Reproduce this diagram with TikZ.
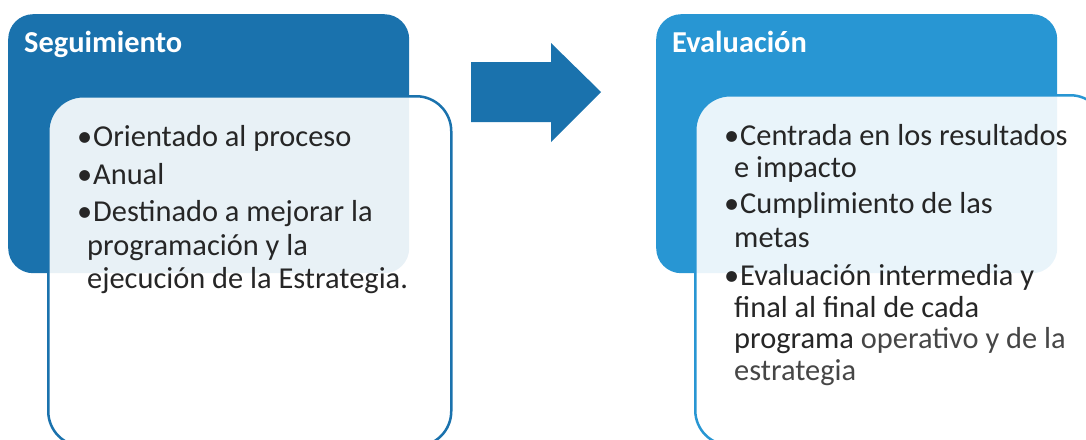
\documentclass[tikz,border=0pt]{standalone}
\usepackage{fontspec}
\setmainfont{Carlito}
\definecolor{blueL}{RGB}{26,114,173}
\definecolor{blueR}{RGB}{40,150,211}
\definecolor{textc}{RGB}{38,38,38}
\definecolor{textg}{RGB}{70,70,70}
\newcommand\bul{\makebox[13pt][l]{\hspace{-3pt}\textbullet}}
\begin{document}
\begin{tikzpicture}[x=1pt,y=-1pt,
  headbox/.style={anchor=north west, rounded corners=25pt, inner sep=0, minimum width=401pt, minimum height=259pt},
  listbox/.style={anchor=north west, rounded corners=35pt, inner sep=0, line width=2.5pt, fill=white, fill opacity=0.9, text opacity=1, minimum width=403pt, minimum height=350pt},
  title/.style={anchor=base west, inner sep=0, text=white, font=\fontsize{30.4}{36}\bfseries\selectfont},
  txt/.style={anchor=base west, inner sep=0, text=textc, font=\fontsize{30.4}{36}\selectfont}]
\useasboundingbox (0,0) rectangle (1086,439);
\clip (0,0) rectangle (1086,439);
% left panel
\node[headbox, fill=blueL] (segbox) at (8,14) {};
\node[listbox, draw=blueL] (seglist) at (47,95) {};
\node[title] (segtitle) at (24,52) {Seguimiento};
\node[txt] (l1) at (80,146) {\bul Orientado al proceso};
\node[txt] (l2) at (80,184) {\bul Anual};
\node[txt] (l3) at (80,221) {\bul Destinado a mejorar la};
\node[txt] (l4) at (87,255) {programación y la};
\node[txt] (l5) at (87,288) {ejecución de la Estrategia.};
% arrow
\fill[blueL] (471,62) -- (551,62) -- (551,43) -- (601,92) -- (551,142) -- (551,122) -- (471,122) -- cycle;
% right panel
\node[headbox, fill=blueR] (evbox) at (656,14) {};
\node[listbox, draw=blueR, minimum width=410pt] (evlist) at (694,94) {};
\node[title] (evtitle) at (672,52) {Evaluación};
\node[txt] (r1) at (727,145) {\bul Centrada en los resultados};
\node[txt] (r2) at (734,177) {e impacto};
\node[txt] (r3) at (727,213) {\bul Cumplimiento de las};
\node[txt] (r4) at (734,247) {metas};
\node[txt] (r5) at (727,285) {\bul Evaluación intermedia y};
\node[txt] (r6) at (734,317) {final al final de cada};
\node[txt] (r7) at (734,348) {programa {\color{textg}operativo y de la}};
\node[txt, text=textg] (r8) at (734,380) {estrategia};
\end{tikzpicture}
\end{document}
